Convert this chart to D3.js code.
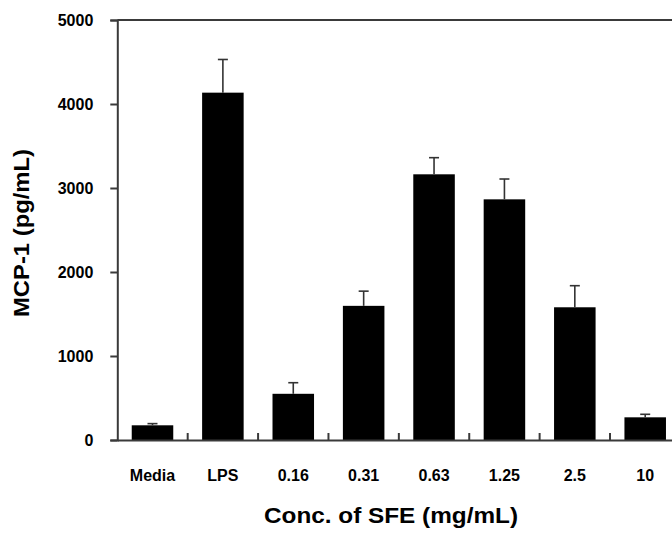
<!DOCTYPE html>
<html><head><meta charset="utf-8">
<script src="https://cdn.jsdelivr.net/npm/d3@7"></script>
<style>body{margin:0;background:#fff}svg{display:block}text{font-family:Arial,"Liberation Sans",sans-serif;font-weight:bold}</style>
</head><body><svg id="c" width="672" height="534"></svg>
<script>
const categories = ["Media","LPS","0.16","0.31","0.63","1.25","2.5","10"];
const values = [175, 4135, 550, 1597, 3163, 2865, 1580, 270];
const errors = [20, 395, 132, 175, 198, 242, 257, 36];
const yTicks = [0,1000,2000,3000,4000,5000];

const svg = d3.select("#c");
const x0 = 117.3, x1 = 680.4, yTop = 20, yBot = 440;
const x = d3.scaleBand().domain(categories).range([x0, x1]).paddingInner(0.41).paddingOuter(0.205);
const y = d3.scaleLinear().domain([0,5000]).range([yBot, yTop]);
const axisColor = "#3a3a3a";

// bars
svg.append("g").selectAll("rect").data(categories).join("rect")
  .attr("x", d => x(d)).attr("width", x.bandwidth())
  .attr("y", (d,i) => y(values[i])).attr("height", (d,i) => yBot - y(values[i]))
  .attr("fill", "#000");

// error bars
const eg = svg.append("g").attr("stroke", "#333").attr("stroke-width", 1.6);
categories.forEach((d,i) => {
  const cx = x(d) + x.bandwidth()/2;
  eg.append("line").attr("x1", cx).attr("x2", cx).attr("y1", y(values[i])).attr("y2", y(values[i]+errors[i]));
  eg.append("line").attr("x1", cx-5).attr("x2", cx+5).attr("y1", y(values[i]+errors[i])).attr("y2", y(values[i]+errors[i]));
});

// y axis
const ya = svg.append("g").attr("transform", `translate(${x0},0)`)
  .call(d3.axisLeft(y).tickValues(yTicks).tickSize(7).tickPadding(17).tickFormat(d3.format("d")));
ya.select(".domain").attr("stroke", axisColor).attr("stroke-width", 2);
ya.selectAll(".tick line").attr("stroke", axisColor).attr("stroke-width", 2);
ya.selectAll(".tick text").attr("font-size", 16).attr("fill", "#000").attr("dy", "0.36em");

// top frame line
svg.append("line").attr("x1", x0).attr("x2", x1).attr("y1", y(5000)).attr("y2", y(5000))
  .attr("stroke", axisColor).attr("stroke-width", 2);

// x axis
const xa = svg.append("g").attr("transform", `translate(0,${yBot})`)
  .call(d3.axisBottom(x).tickSize(0).tickPadding(30));
xa.select(".domain").attr("stroke", axisColor).attr("stroke-width", 2);
xa.selectAll(".tick text").attr("font-size", 16).attr("fill", "#000");
// boundary ticks (inward)
svg.append("g").selectAll("line").data(categories).join("line")
  .attr("x1", d => x(d) + x.bandwidth()/2 + x.step()/2)
  .attr("x2", d => x(d) + x.bandwidth()/2 + x.step()/2)
  .attr("y1", yBot).attr("y2", yBot - 7)
  .attr("stroke", axisColor).attr("stroke-width", 2);

// axis titles
svg.append("text").attr("x", (263+519)/2).attr("y", 523).attr("text-anchor", "middle")
  .attr("font-size", 22).attr("textLength", 254).attr("lengthAdjust", "spacingAndGlyphs")
  .text("Conc. of SFE (mg/mL)");
svg.append("text").attr("transform", "translate(29,233) rotate(-90)").attr("text-anchor", "middle")
  .attr("font-size", 22).attr("textLength", 168).attr("lengthAdjust", "spacingAndGlyphs")
  .text("MCP-1 (pg/mL)");
</script></body></html>
